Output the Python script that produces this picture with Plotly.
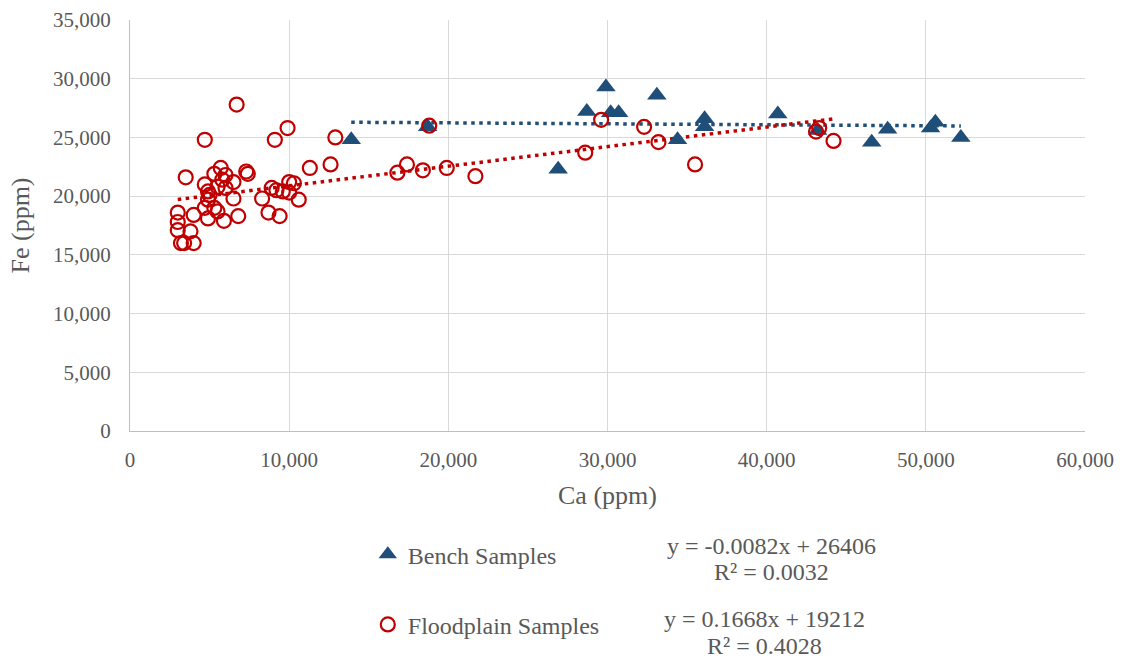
import plotly.graph_objects as go

# ---------------- data ----------------
bench_ca = [13900, 18700, 26900, 28700, 29900, 30200, 30700, 33100, 34400,
            36100, 36100, 40700, 43200, 46600, 47600, 50300, 50600, 52200]
bench_fe = [24800, 25900, 22300, 27200, 29300, 27100, 27100, 28600, 24800,
            26600, 25900, 27000, 25600, 24600, 25700, 25800, 26300, 25000]

flood_ca = [3000, 3000, 3000, 3200, 3400, 3500, 3800, 4000, 4000, 4700,
            4700, 4700, 4900, 4900, 4900, 5000, 5300, 5300, 5500, 5500,
            5700, 5800, 5900, 6000, 6000, 6500, 6500, 6700, 6800, 7300,
            7400, 8300, 8700, 8900, 9100, 9200, 9400, 9600, 9900, 10000,
            10000, 10300, 10600, 11300, 12600, 12900, 16800, 17400, 18400, 18800,
            19900, 21700, 28600, 29600, 32300, 33200, 35500, 43100, 43300, 44200]
flood_fe = [18600, 17800, 17100, 16000, 16000, 21600, 17000, 18400, 16000, 24800,
            21000, 19000, 20400, 19700, 18100, 20100, 21900, 19000, 20800, 18700,
            22400, 21400, 17900, 21800, 20700, 21200, 19800, 27800, 18300, 22100,
            21900, 19800, 18600, 20700, 24800, 20500, 18300, 20400, 25800, 21200,
            20300, 21100, 19700, 22400, 22700, 25000, 22000, 22700, 22200, 26000,
            22400, 21700, 23700, 26500, 25900, 24600, 22700, 25500, 25800, 24700]

bench_slope, bench_intercept, bench_r2 = -0.0082, 26406, 0.0032
flood_slope, flood_intercept, flood_r2 = 0.1668, 19212, 0.4028

x_ticks = [0, 10000, 20000, 30000, 40000, 50000, 60000]
y_ticks = [0, 5000, 10000, 15000, 20000, 25000, 30000, 35000]

BLUE = "#1F4E79"
RED = "#C00000"
TXT = "#595959"
FONT = "Liberation Serif"

bx = [min(bench_ca), max(bench_ca)]
by = [bench_slope * v + bench_intercept for v in bx]
fx = [min(flood_ca), max(flood_ca)]
fy = [flood_slope * v + flood_intercept for v in fx]

fig = go.Figure()
fig.add_trace(go.Scatter(x=bx, y=by, mode="lines", showlegend=False,
                         line=dict(color=BLUE, width=3.5, dash="3.5px,4.5px"),
                         hoverinfo="skip"))
fig.add_trace(go.Scatter(x=fx, y=fy, mode="lines", showlegend=False,
                         line=dict(color=RED, width=3.5, dash="3.5px,4.5px"),
                         hoverinfo="skip"))
fig.add_trace(go.Scatter(x=bench_ca, y=bench_fe, mode="markers", name="Bench Samples",
                         legendgroup="b",
                         marker=dict(symbol="triangle-up", size=17, color=BLUE,
                                     line=dict(width=0))))
fig.add_trace(go.Scatter(x=flood_ca, y=flood_fe, mode="markers", name="Floodplain Samples",
                         legendgroup="f",
                         marker=dict(symbol="circle-open", size=14, color=RED,
                                     line=dict(width=2.2, color=RED))))

fig.update_layout(
    width=1125, height=664,
    margin=dict(l=130, r=40, t=20, b=233),
    paper_bgcolor="white", plot_bgcolor="white",
    font=dict(family=FONT, color=TXT, size=21),
    showlegend=True,
    legend=dict(x=0.249, y=-0.246, xanchor="left", yanchor="top",
                orientation="v", tracegroupgap=36, itemwidth=30,
                font=dict(family=FONT, size=24, color=TXT),
                bgcolor="rgba(0,0,0,0)"),
    xaxis=dict(range=[0, 60000], tickvals=x_ticks, tickformat=",d",
               showgrid=True, gridcolor="#D9D9D9", gridwidth=1,
               zeroline=False, showline=True, linecolor="#BFBFBF", linewidth=1,
               mirror=False, ticks="", ticklabelstandoff=10, automargin=False,
               tickfont=dict(size=21, color=TXT),
               title=dict(text="Ca (ppm)", font=dict(size=26, color=TXT), standoff=14)),
    yaxis=dict(range=[0, 35000], tickvals=y_ticks, tickformat=",d",
               showgrid=True, gridcolor="#D9D9D9", gridwidth=1,
               zeroline=False, showline=True, linecolor="#BFBFBF", linewidth=1,
               ticks="", ticklabelstandoff=14, automargin=False,
               tickfont=dict(size=21, color=TXT),
               title=dict(text="Fe (ppm)", font=dict(size=26, color=TXT), standoff=15)),
)


def add_text(text, xpx, ypx):
    fig.add_annotation(xref="paper", yref="paper",
                       x=(xpx - 130) / 955, y=(431 - ypx) / 411,
                       xanchor="center", yanchor="middle",
                       text=text, showarrow=False,
                       font=dict(family=FONT, size=24, color=TXT))


add_text(f"y = {bench_slope}x + {bench_intercept}", 771, 546)
add_text(f"R² = {bench_r2:.4f}", 771, 572)
add_text(f"y = {flood_slope}x + {flood_intercept}", 764, 619)
add_text(f"R² = {flood_r2:.4f}", 764, 646)

fig.write_html("out.html")
